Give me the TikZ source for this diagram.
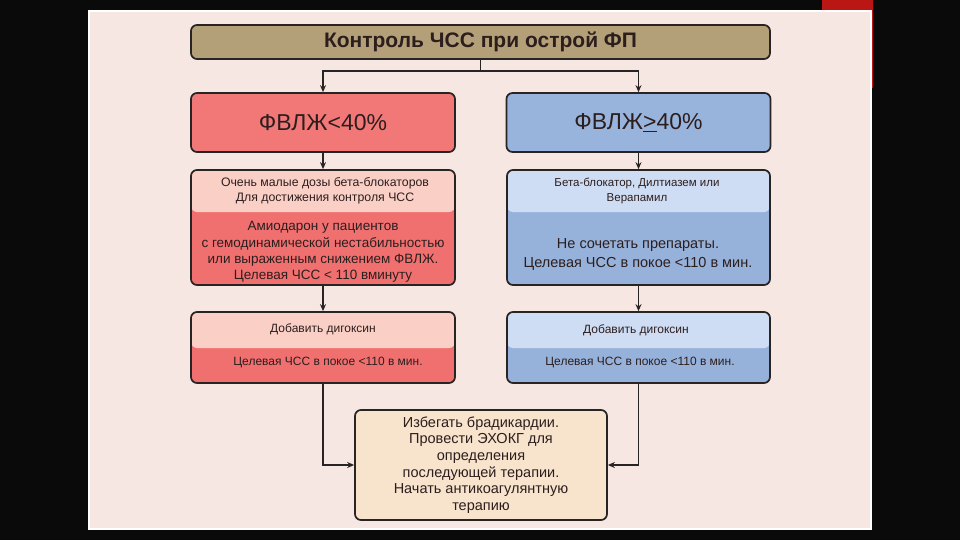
\documentclass[tikz,border=0pt]{standalone}
\usepackage{fontspec}
\setmainfont{Liberation Sans}
\usetikzlibrary{positioning,arrows.meta,calc}
\definecolor{bgclr}{RGB}{10,10,10}
\definecolor{barclr}{RGB}{185,22,20}
\definecolor{panelclr}{RGB}{246,231,226}
\definecolor{tanclr}{RGB}{180,160,120}
\definecolor{redhi}{RGB}{242,120,120}
\definecolor{redtop}{RGB}{250,208,198}
\definecolor{redlow}{RGB}{240,112,112}
\definecolor{bluehi}{RGB}{152,180,220}
\definecolor{bluetop}{RGB}{206,221,243}
\definecolor{bluelow}{RGB}{150,178,218}
\definecolor{finclr}{RGB}{248,228,205}
\definecolor{lineclr}{RGB}{40,36,36}
\definecolor{txtclr}{RGB}{45,30,30}
\tikzset{
  panel/.style={rectangle,fill=panelclr,draw=white,line width=2pt,
                minimum width=782pt,minimum height=518pt,inner sep=0pt},
  box/.style={rectangle,rounded corners=6pt,draw=lineclr,line width=1.7pt,
              inner sep=0pt},
  hdr/.style={box,fill=tanclr,minimum width=579pt,minimum height=34pt,
              font=\fontsize{21}{24}\selectfont\bfseries,text=txtclr},
  lefhi/.style={box,fill=redhi,minimum width=264pt,minimum height=59pt,
                font=\fontsize{23}{27}\selectfont,text=txtclr},
  righi/.style={lefhi,fill=bluehi},
  leftwo/.style={box,fill=redlow,path picture={
      \fill[redtop] (path picture bounding box.north west) rectangle
        ([yshift=-#1]path picture bounding box.north east);}},
  rigtwo/.style={box,fill=bluelow,path picture={
      \fill[bluetop] (path picture bounding box.north west) rectangle
        ([yshift=-#1]path picture bounding box.north east);}},
  fin/.style={box,fill=finclr,minimum width=252pt,minimum height=110pt,
              align=center,text=txtclr,font=\fontsize{14.5}{16.6}\selectfont},
  sml/.style={align=center,text=txtclr,inner sep=0pt},
  arr/.style={-{Stealth[length=7pt,width=6pt]},line width=1.9pt,draw=lineclr},
}
\begin{document}
\begin{tikzpicture}[x=1pt,y=-1pt]
\useasboundingbox (0,0) rectangle (960,540);
% Slide background
\fill[bgclr] (0,0) rectangle (960,540);
\fill[barclr] (822,0) rectangle (873,88);
\node[panel] (pnl) at (480,270) {};

% Header
\node[hdr] (title) at (480.5,42) {Контроль ЧСС при острой ФП};

% Two branches
\node[lefhi] (lhi) at (323,122.5) {ФВЛЖ<40\%};
\node[righi] (rhi) at (638.5,122.5) {ФВЛЖ\underline{>}40\%};

% Therapy boxes
\node[leftwo=42pt,minimum width=264pt,minimum height=115pt] (lmid) at (323,227.5) {};
\node[rigtwo=42pt,minimum width=263pt,minimum height=115pt] (rmid) at (638.5,227.5) {};
\node[sml,font=\fontsize{12.3}{14.5}\selectfont] (lmidtop) at (325,191)
  {Очень малые дозы бета-блокаторов\\Для достижения контроля ЧСС};
\node[sml,font=\fontsize{13.5}{16.3}\selectfont] (lmidlow) at (323,252)
  {Амиодарон у пациентов\\с гемодинамической нестабильностью\\или выраженным снижением ФВЛЖ.\\Целевая ЧСС < 110 вминуту};
\node[sml,font=\fontsize{11.5}{15}\selectfont] (rmidtop) at (637,190.5)
  {Бета-блокатор, Дилтиазем или\\Верапамил};
\node[sml,font=\fontsize{14.5}{19}\selectfont] (rmidlow) at (638,254)
  {Не сочетать препараты.\\Целевая ЧСС в покое <110 в мин.};

% Digoxin boxes
\node[leftwo=36pt,minimum width=264pt,minimum height=71pt] (lbot) at (323,347.5) {};
\node[rigtwo=36pt,minimum width=263pt,minimum height=71pt] (rbot) at (638.5,347.5) {};
\node[sml,font=\fontsize{12}{14}\selectfont] (lbottop) at (323,329) {Добавить дигоксин};
\node[sml,font=\fontsize{12}{14}\selectfont] (lbotlow) at (328,363) {Целевая ЧСС в покое <110 в мин.};
\node[sml,font=\fontsize{12}{14}\selectfont] (rbottop) at (636,330) {Добавить дигоксин};
\node[sml,font=\fontsize{12}{14}\selectfont] (rbotlow) at (640,363) {Целевая ЧСС в покое <110 в мин.};

% Final box
\node[fin] (final) at (481,465)
  {Избегать брадикардии.\\Провести ЭХОКГ для\\определения\\последующей терапии.\\Начать антикоагулянтную\\терапию};

% Connectors
\draw[arr] (title.south) -- ++(0,11) -| (lhi.north);
\draw[arr] (title.south) -- ++(0,11) -| (rhi.north);
\draw[arr] (lhi) -- (lmid);
\draw[arr] (rhi) -- (rmid);
\draw[arr] (lmid) -- (lbot);
\draw[arr] (rmid) -- (rbot);
\draw[arr] (lbot.south) |- (final.west);
\draw[arr] (rbot.south) |- (final.east);
\end{tikzpicture}
\end{document}
